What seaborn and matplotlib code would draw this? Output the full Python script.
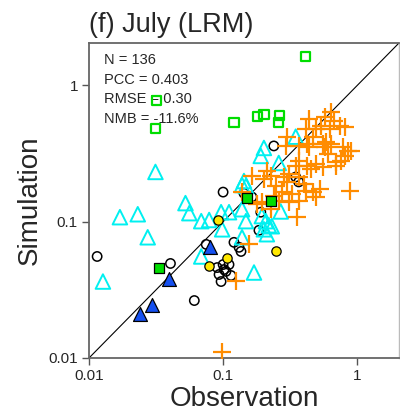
import numpy as np
import pandas as pd
import matplotlib
matplotlib.use("Agg")
import matplotlib.pyplot as plt
import seaborn as sns

# observation / simulation pairs, one set per site group
circ_obs = [0.0115, 0.100, 0.0405, 0.061, 0.0748, 0.239, 0.348, 0.366, 0.143, 0.164,
            0.185, 0.191, 0.1205, 0.1315, 0.136, 0.100, 0.1107, 0.0933, 0.105, 0.0966,
            0.1017, 0.0904, 0.1146]
circ_sim = [0.0556, 0.165, 0.0494, 0.0264, 0.0682, 0.360, 0.213, 0.196, 0.162, 0.152,
            0.0865, 0.1175, 0.0706, 0.0649, 0.0605, 0.0485, 0.0485, 0.041, 0.0432, 0.0364,
            0.0446, 0.0461, 0.0403]

tri_obs = [0.0313, 0.0170, 0.0231, 0.0274, 0.0127, 0.0524, 0.056, 0.0687, 0.0787, 0.0966,
           0.0984, 0.0687, 0.1107, 0.1384, 0.148, 0.1384, 0.148, 0.1945, 0.2085, 0.219,
           0.2015, 0.2307, 0.212, 0.170, 0.191, 0.2015, 0.260, 0.348, 0.143, 0.269, 0.1384]
tri_sim = [0.232, 0.108, 0.1135, 0.0769, 0.0364, 0.137, 0.1156, 0.101, 0.103, 0.1175,
           0.088, 0.0556, 0.1175, 0.0769, 0.183, 0.1236, 0.101, 0.110, 0.101, 0.0942,
           0.088, 0.0927, 0.081, 0.0424, 0.304, 0.348, 0.270, 0.421, 0.199, 0.119, 0.186]

plus_obs = [0.298, 0.293, 0.212, 0.227, 0.308, 0.283, 0.164, 0.247, 0.298, 0.2735,
            0.239, 0.260, 0.1945, 0.1786, 0.227, 0.308,
            0.641, 0.579, 0.676, 0.541, 0.748, 0.4335, 0.412, 0.497, 0.631, 0.815,
            0.472, 0.419, 0.560, 0.641, 0.579, 0.787, 0.858, 0.366, 0.610, 0.815,
            0.698, 0.366, 0.419, 0.497, 0.560, 0.348, 0.412, 0.472, 0.497, 0.3245,
            0.887, 0.366,
            0.1384, 0.156, 0.1249, 0.353, 0.0984, 0.4335, 0.589, 0.903, 0.761, 0.449,
            0.532, 0.398, 0.698, 0.2015, 0.366]
plus_sim = [0.421, 0.361, 0.236, 0.217, 0.224, 0.213, 0.217, 0.183, 0.196, 0.165,
            0.154, 0.1417, 0.1393, 0.1346, 0.1236, 0.1393,
            0.643, 0.590, 0.552, 0.507, 0.507, 0.571, 0.482, 0.482, 0.482, 0.498,
            0.421, 0.373, 0.373, 0.373, 0.355, 0.355, 0.331, 0.361, 0.315, 0.304,
            0.275, 0.280, 0.257, 0.266, 0.253, 0.257, 0.168, 0.165, 0.152, 0.160,
            0.168, 0.1417,
            0.165, 0.0682, 0.037, 0.108, 0.0111, 0.355, 0.386, 0.331, 0.280, 0.244,
            0.174, 0.189, 0.257, 0.206, 0.213]

sq_obs = [0.0319, 0.0313, 0.412, 0.1205, 0.1815, 0.2015, 0.264, 0.260]
sq_sim = [0.774, 0.482, 1.64, 0.533, 0.590, 0.611, 0.601, 0.533]

sqf_obs = [0.151, 0.227, 0.033]
sqf_sim = [0.149, 0.1416, 0.0461]

blue_obs = [0.0802, 0.0392, 0.0293, 0.0239]
blue_sim = [0.0649, 0.0377, 0.0246, 0.0211]

yel_obs = [0.0918, 0.0787, 0.107, 0.247]
yel_sim = [0.1026, 0.0477, 0.0538, 0.0605]

stats_lines = ["N = 136", "PCC = 0.403", "RMSE = 0.30", "NMB = -11.6%"]

sns.set_style("ticks")
plt.rcParams['font.family'] = ['Liberation Sans', 'DejaVu Sans']

fig = plt.figure(figsize=(4.0, 4.17), dpi=100)
ax = fig.add_axes([0.2225, 0.1415, 0.775, 0.7554])
ax.set_xscale('log')
ax.set_yscale('log')
lim = (0.01, 2.05)
ax.set_xlim(lim)
ax.set_ylim(lim)
ax.plot(lim, lim, color='black', lw=0.8, zorder=1)

sns.scatterplot(x=circ_obs, y=circ_sim, ax=ax, marker='o', s=45,
                facecolor='none', edgecolor='black', linewidth=1.1, zorder=2)
sns.scatterplot(x=tri_obs, y=tri_sim, ax=ax, marker='^', s=110,
                facecolor='none', edgecolor='#00f0f0', linewidth=1.4, zorder=3)
sns.scatterplot(x=plus_obs, y=plus_sim, ax=ax, marker='+', s=170,
                color='#ff8c00', linewidth=1.6, zorder=4)
sns.scatterplot(x=sq_obs, y=sq_sim, ax=ax, marker='s', s=45,
                facecolor='none', edgecolor='#00dd00', linewidth=1.6, zorder=5)
sns.scatterplot(x=sqf_obs, y=sqf_sim, ax=ax, marker='s', s=55,
                color='#00dd00', edgecolor='black', linewidth=0.9, zorder=6)
sns.scatterplot(x=blue_obs, y=blue_sim, ax=ax, marker='^', s=100,
                color='#1550f0', edgecolor='black', linewidth=0.9, zorder=6)
sns.scatterplot(x=yel_obs, y=yel_sim, ax=ax, marker='o', s=45,
                color='#ffe800', edgecolor='black', linewidth=0.9, zorder=6)

for i, t in enumerate(stats_lines):
    ax.text(0.05, 0.945 - i * 0.062, t, transform=ax.transAxes,
            fontsize=10.5, va='center', ha='left')

ax.set_xticks([0.01, 0.1, 1])
ax.set_yticks([0.01, 0.1, 1])
ax.set_xticklabels(['0.01', '0.1', '1'])
ax.set_yticklabels(['0.01', '0.1', '1'])
ax.minorticks_off()
ax.tick_params(axis='both', labelsize=11, length=5, width=1, color='#555555', pad=3)

for side in ['left', 'bottom', 'top']:
    ax.spines[side].set_color('#666666')
    ax.spines[side].set_linewidth(1.3)
ax.spines['right'].set_color('#bbbbbb')
ax.spines['right'].set_linewidth(1.0)

ax.set_xlabel('Observation', fontsize=20, labelpad=2)
ax.set_ylabel('Simulation', fontsize=20, labelpad=4)
ax.set_title('(f) July (LRM)', fontsize=19.5, loc='left', pad=8)

fig.savefig('out.png', dpi=100)
